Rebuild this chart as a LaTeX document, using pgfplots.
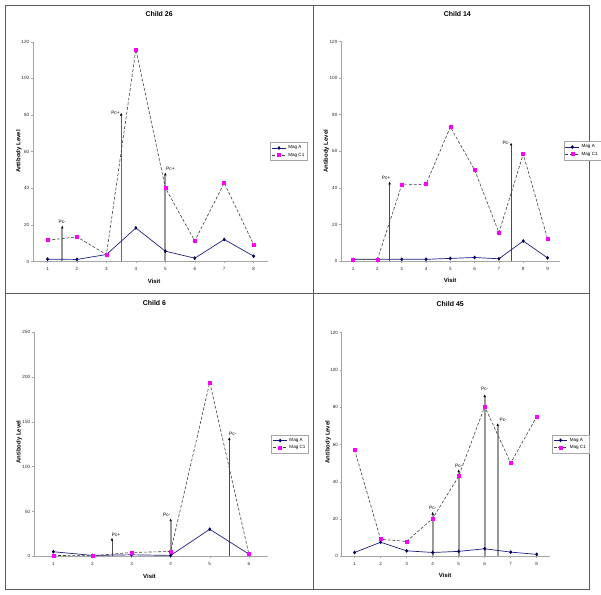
\documentclass[border=0pt]{standalone}
\usepackage{fontspec}
\setmainfont{Liberation Sans}
\usepackage{pgfplots}
\pgfplotsset{compat=1.18}
\usetikzlibrary{arrows.meta}
\definecolor{navyA}{RGB}{30,30,128}
\definecolor{navyM}{RGB}{0,0,90}
\definecolor{magC}{RGB}{255,0,255}
\tikzset{pclab/.style={font=\fontsize{4.8}{5}\selectfont, inner sep=1pt, text=black}}
\pgfplotsset{
  childaxis/.style={
    scale only axis,
    anchor=south west,
    axis x line*=bottom, axis y line*=left,
    axis line style={draw=gray!70, line width=0.6pt},
    tick style={draw=gray!70, line width=0.5pt},
    tick align=outside,
    major tick length=2pt,
    ticklabel style={font=\fontsize{4.6}{5}\selectfont, text=black!85, inner sep=1.5pt},
    xticklabel style={yshift=-2.5pt},
    /pgf/number format/assume math mode=true,
    xlabel={Visit}, ylabel={Antibody Level},
    label style={font=\bfseries\fontsize{6}{7}\selectfont},
    title style={font=\bfseries\fontsize{7}{8}\selectfont, anchor=center},
    legend style={draw=gray!70, line width=0.4pt, font=\fontsize{4.6}{5}\selectfont,
      anchor=west, inner sep=1.2pt, row sep=-1.5pt, cells={anchor=west}},
    legend image code/.code={\draw[mark repeat=2,mark phase=2] plot coordinates {(0pt,0pt) (7pt,0pt) (14pt,0pt)};},
    clip=false,
  },
  maga/.style={color=navyA, line width=0.7pt, mark=diamond*, mark size=1.4pt, mark options={solid, draw=navyM, fill=navyM}},
  magc/.style={color=black!75, dash pattern=on 3pt off 1.8pt, line width=0.6pt, mark=square*, mark size=1.5pt, mark options={solid, draw=magC, fill=magC}},
  pcthick/.style={forget plot, no marks, line width=1.8pt, color=black!40, -{Latex[black,length=3pt,width=2.6pt]}},
  pcthin/.style={forget plot, no marks, line width=0.8pt, color=black!70, -{Latex[black,length=3pt,width=2.6pt]}},
}
\begin{document}
\begin{tikzpicture}
\path (0pt,0pt) rectangle (601pt,598pt);
\draw[black!65, line width=0.8pt] (5pt,5pt) rectangle (593pt,593pt);
\draw[black!65, line width=0.8pt] (315pt,5pt) -- (315pt,593pt);
\draw[black!65, line width=0.8pt] (5pt,303pt) -- (593pt,303pt);

% Child 26
\begin{axis}[childaxis, at={(33pt,335pt)}, width=237pt, height=221pt,
  xmin=0.5, xmax=8.5, xtick={1,...,8}, ymin=0, ymax=120, ytick={0,20,...,120},
  title={Child 26}, title style={at={(0.536,1.10)}},
  xlabel style={at={(axis description cs:0.515,-0.09)}, anchor=center},
  ylabel style={at={(axis description cs:-0.059,0.5)}, anchor=center},
  legend style={at={(1.008,0.5)}}]
\addplot[pcthick] coordinates {(1.5,0) (1.5,19.7)} node[pos=1, above, pclab] {Pc-};
\addplot[pcthin, color=black!60, line width=1pt] coordinates {(3.5,0) (3.5,81.3)} node[pos=1, left, pclab] {Pc+};
\addplot[pcthick] coordinates {(5,0) (5,48.7)} node[pos=1, above right, pclab, xshift=-1pt] {Pc+};
\addplot[maga] coordinates {(1,1.25) (2,1.1) (3,3.8) (4,18.3) (5,5.6) (6,1.8) (7,12) (8,2.9)};
\addplot[magc] coordinates {(1,11.6) (2,13.4) (3,3.8) (4,115.8) (5,40.2) (6,11.2) (7,42.9) (8,9.2)};
\legend{Mag A, Mag C1}
\end{axis}

% Child 14
\begin{axis}[childaxis, at={(343pt,335.3pt)}, width=220pt, height=221pt,
  xmin=0.5, xmax=9.5, xtick={1,...,9}, ymin=0, ymax=120, ytick={0,20,...,120},
  title={Child 14}, title style={at={(0.532,1.10)}},
  xlabel style={at={(axis description cs:0.499,-0.089)}, anchor=center},
  ylabel style={at={(axis description cs:-0.067,0.5)}, anchor=center},
  legend style={at={(1.018,0.503)}}]
\addplot[pcthin] coordinates {(2.5,0) (2.5,43.6)} node[pos=1, above left, pclab, xshift=2pt] {Pc+};
\addplot[pcthin] coordinates {(7.5,0) (7.5,64.8)} node[pos=1, left, pclab] {Pc-};
\addplot[maga] coordinates {(1,1) (2,1) (3,1) (4,1) (5,1.5) (6,2) (7,1.3) (8,11) (9,1.8)};
\addplot[magc] coordinates {(1,1) (2,1) (3,41.6) (4,42) (5,73.3) (6,49.8) (7,15.6) (8,58.5) (9,12.3)};
\legend{Mag A, Mag C1}
\end{axis}

% Child 6
\begin{axis}[childaxis, at={(34pt,38.3pt)}, width=236pt, height=225.7pt,
  xmin=0.5, xmax=6.5, xtick={1,...,6}, ymin=0, ymax=250, ytick={0,50,...,250},
  title={Child 6}, title style={at={(0.514,1.102)}},
  xlabel style={at={(axis description cs:0.493,-0.0886)}, anchor=center},
  ylabel style={at={(axis description cs:-0.063,0.51)}, anchor=center},
  legend style={at={(1.013,0.5)}}]
\addplot[pcthin] coordinates {(2.5,0) (2.5,21)} node[pos=1, above right, pclab, xshift=-1.5pt] {Pc+};
\addplot[pcthick] coordinates {(4,0) (4,42.5)} node[pos=1, above left, pclab, xshift=1.5pt] {Pc-};
\addplot[pcthin] coordinates {(5.5,0) (5.5,133)} node[pos=1, above right, pclab, xshift=-1.5pt] {Pc-};
\addplot[maga] coordinates {(1,5.2) (2,1.1) (3,1.8) (4,1.1) (5,30.3) (6,2.6)};
\addplot[magc] coordinates {(1,1.1) (2,0.7) (3,4.4) (4,5.5) (5,193.9) (6,2.6)};
\legend{Mag A, Mag C1}
\end{axis}

% Child 45
\begin{axis}[childaxis, at={(343.6pt,38.3pt)}, width=209.4pt, height=225pt,
  xmin=0.5, xmax=8.5, xtick={1,...,8}, ymin=0, ymax=120, ytick={0,20,...,120},
  title={Child 45}, title style={at={(0.522,1.102)}},
  xlabel style={at={(axis description cs:0.497,-0.086)}, anchor=center},
  ylabel style={at={(axis description cs:-0.065,0.511)}, anchor=center},
  legend style={at={(1.01,0.503)}}]
\addplot[pcthick] coordinates {(4,0) (4,24)} node[pos=1, above, pclab] {Pc-};
\addplot[pcthick] coordinates {(5,0) (5,46.8)} node[pos=1, above, pclab] {Pc-};
\addplot[pcthick] coordinates {(6,0) (6,87.1)} node[pos=1, above, pclab, yshift=2pt] {Pc-};
\addplot[pcthick] coordinates {(6.5,0) (6.5,71.6)} node[pos=1, above right, pclab] {Pc-};
\addplot[maga] coordinates {(1,2.1) (2,7.6) (3,3) (4,2.1) (5,2.7) (6,4.1) (7,2.3) (8,1.1)};
\addplot[magc] coordinates {(1,57.2) (2,9.2) (3,8) (4,20.4) (5,43) (6,80.4) (7,50.1) (8,75)};
\legend{Mag A, Mag C1}
\end{axis}
\end{tikzpicture}
\end{document}
